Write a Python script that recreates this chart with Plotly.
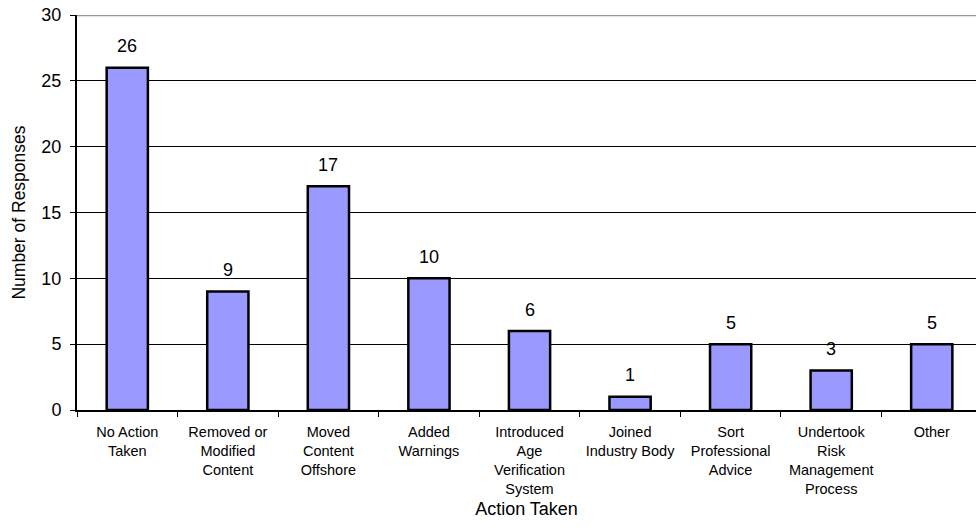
import plotly.graph_objects as go

categories = ["No Action<br>Taken", "Removed or<br>Modified<br>Content", "Moved<br>Content<br>Offshore",
              "Added<br>Warnings", "Introduced<br>Age<br>Verification<br>System", "Joined<br>Industry Body",
              "Sort<br>Professional<br>Advice", "Undertook<br>Risk<br>Management<br>Process", "Other"]
values = [26, 9, 17, 10, 6, 1, 5, 3, 5]
y_ticks = [0, 5, 10, 15, 20, 25, 30]

FONT = "Liberation Sans, Arial, sans-serif"

fig = go.Figure()
fig.add_trace(go.Bar(
    x=categories, y=values, width=0.41,
    marker=dict(color="#9999FF", line=dict(color="black", width=2.5)),
    hoverinfo="x+y",
))

for c, v in zip(categories, values):
    fig.add_annotation(x=c, y=v, text=str(v), showarrow=False, yanchor="bottom",
                       yshift=9.5, font=dict(family=FONT, size=18, color="black"))

fig.add_shape(type="line", xref="paper", yref="y", x0=0, x1=1, y0=30, y1=30,
              line=dict(color="#999999", width=2.5))

fig.update_layout(
    width=976, height=531,
    margin=dict(l=76.5, r=0, t=15, b=121),
    paper_bgcolor="white", plot_bgcolor="white",
    showlegend=False,
    font=dict(family=FONT, color="black"),
    xaxis=dict(
        range=[-0.5, 8.44], tickson="boundaries", ticks="outside", ticklen=5,
        tickcolor="black", showline=True, linecolor="black", linewidth=2,
        tickfont=dict(size=14.5), showgrid=False, automargin=False,
        ticklabelstandoff=8,
        title=dict(text="Action Taken", font=dict(size=18), standoff=6),
    ),
    yaxis=dict(
        range=[0, 30], tickvals=y_ticks, ticks="outside", ticklen=5, tickcolor="black",
        showline=True, linecolor="black", linewidth=2,
        showgrid=True, gridcolor="black", gridwidth=1, automargin=False,
        tickfont=dict(size=18), zeroline=False, ticklabelstandoff=5,
        ticklabeloverflow="allow",
        title=dict(text="Number of Responses", font=dict(size=17.5), standoff=11),
    ),
)

fig.write_html("out.html", config={"displayModeBar": False},
               post_script="document.body.style.margin='0px';")
